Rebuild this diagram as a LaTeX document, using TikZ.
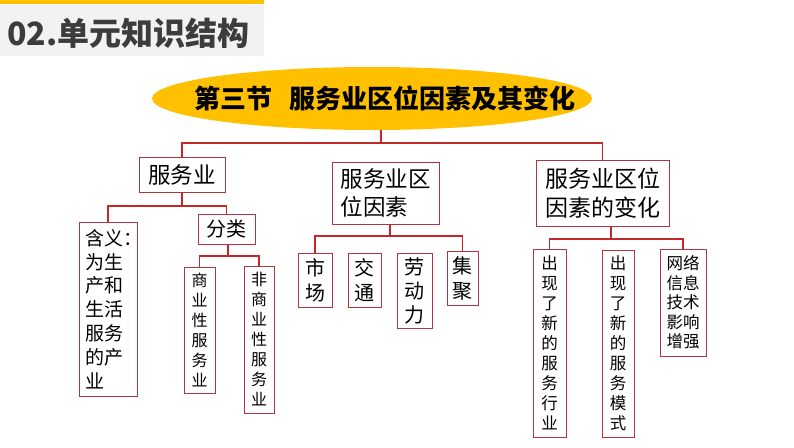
\documentclass[tikz,border=0pt]{standalone}
\usepackage{fontspec}
\setmainfont{Noto Sans CJK SC}
\usetikzlibrary{shapes.geometric}
\definecolor{gold}{RGB}{255,192,0}
\definecolor{boxred}{RGB}{176,52,66}
\definecolor{linered}{RGB}{196,40,40}
\definecolor{hdrgray}{RGB}{242,242,242}
\definecolor{hdrtext}{RGB}{60,60,60}
\newcommand\fs[2]{\fontsize{#1}{#2}\selectfont}
\begin{document}
\begin{tikzpicture}[x=1pt,y=-1pt,
  box/.style={draw=boxred, line width=1pt, inner sep=0pt, align=center, text=black},
  conn/.style={draw=linered, line width=1.2pt}]
\useasboundingbox (0,0) rectangle (794,447);
% header
\fill[gold] (0,0) rectangle (264,4);
\fill[hdrgray] (0,5) rectangle (264,56);
\node[anchor=west, inner sep=0pt, text=hdrtext, font=\fs{32}{32}\bfseries] (hdr) at (7,33) {02.单元知识结构};
% root
\node[ellipse, fill=gold, minimum width=440pt, minimum height=63pt, inner sep=0pt] (root) at (372,98.5) {};
\node[inner sep=0pt, font=\fs{26}{26}\bfseries] (title) at (385,98) {第三节\hspace{17pt}服务业区位因素及其变化};
% level 1
\node[box, minimum width=86pt, minimum height=35pt, font=\fs{22.5}{22.5}] (b1) at (182,174.5) {服务业};
\node[box, minimum width=107pt, minimum height=62pt, align=left, font=\fs{22.5}{28}] (b2) at (385.5,193) {服务业区\\位因素};
\node[box, minimum width=133pt, minimum height=66pt, align=left, font=\fs{23}{29}] (b3) at (602.5,193) {服务业区位\\因素的变化};
% level 2 left
\node[box, minimum width=58pt, minimum height=174pt] (c1) at (108,309) {};
\node[anchor=west, inner sep=0pt, align=left, font=\fs{19}{23.8}] (c1t) at (85,309) {含义：\\为生\\产和\\生活\\服务\\的产\\业};
\node[box, minimum width=57pt, minimum height=30pt, font=\fs{20}{20}] (c2) at (226.5,229) {分类};
\node[box, minimum width=31pt, minimum height=126pt, font=\fs{16}{20}] (d1) at (199.5,330) {商\\业\\性\\服\\务\\业};
\node[box, minimum width=30pt, minimum height=147pt, font=\fs{16}{20}] (d2) at (259,339.5) {非\\商\\业\\性\\服\\务\\业};
% level 2 middle
\node[box, minimum width=34pt, minimum height=54pt, font=\fs{20}{25}] (e1) at (315,280) {市\\场};
\node[box, minimum width=33pt, minimum height=54pt, font=\fs{20}{25}] (e2) at (364.5,280) {交\\通};
\node[box, minimum width=35pt, minimum height=75pt, font=\fs{20}{24}] (e3) at (414.5,290.5) {劳\\动\\力};
\node[box, minimum width=31pt, minimum height=54pt, font=\fs{20}{25}] (e4) at (462.5,278) {集\\聚};
% level 2 right
\node[box, minimum width=33pt, minimum height=188pt, font=\fs{16.5}{20}] (f1) at (549.5,343) {出\\现\\了\\新\\的\\服\\务\\行\\业};
\node[box, minimum width=32pt, minimum height=187pt, font=\fs{16.5}{20}] (f2) at (618,343.5) {出\\现\\了\\新\\的\\服\\务\\模\\式};
\node[box, minimum width=46pt, minimum height=107pt, font=\fs{16.5}{19.5}] (f3) at (683,302.5) {网络\\信息\\技术\\影响\\增强};
% connectors
\coordinate (j0) at (381,143);
\draw[conn] (root.south -| j0) -- (j0);
\draw[conn] (b1.north) |- (j0) -| (b3.north);
\coordinate (j1) at (182,206);
\draw[conn] (b1.south) -- (j1);
\draw[conn] (c1.north) |- (j1) -| (c2.north);
\coordinate (j2) at (228,256);
\draw[conn] (c2.south -| j2) -- (j2);
\draw[conn] (d1.north) |- (j2) -| (d2.north);
\coordinate (j3) at (390,236);
\draw[conn] (b2.south -| j3) -- (j3);
\draw[conn] (e1.north) |- (j3) -| (e4.north);
\coordinate (j4) at (611,239);
\draw[conn] (b3.south -| j4) -- (j4);
\draw[conn] (f1.north) |- (j4) -| (f3.north);
\end{tikzpicture}
\end{document}
